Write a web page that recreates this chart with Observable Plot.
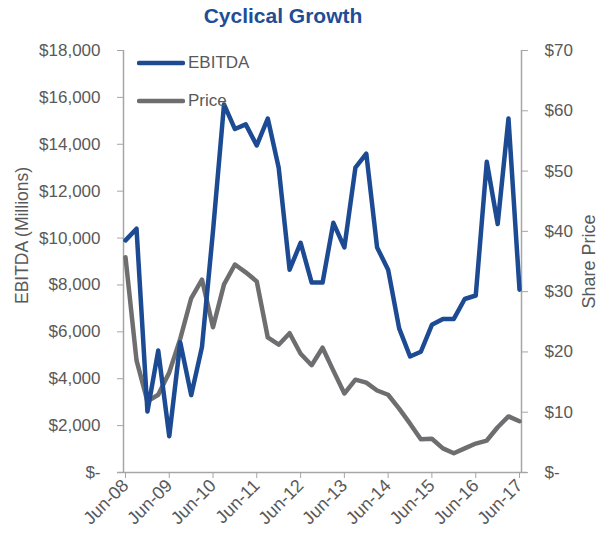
<!DOCTYPE html>
<html>
<head>
<meta charset="utf-8">
<script src="https://cdn.jsdelivr.net/npm/d3@7"></script>
<script src="https://cdn.jsdelivr.net/npm/@observablehq/plot@0.6"></script>
<style>
  html, body { margin: 0; padding: 0; background: #fff; }
  #wrap { position: relative; width: 610px; height: 533px; font-family: "Liberation Sans Narrow", "Arial Narrow", "Liberation Sans", sans-serif; }
  #title { position: absolute; left: 0; top: 4px; width: 566px; text-align: center; font-size: 21px; font-weight: bold; color: #1f4e96; z-index: 2; }
  .leg { position: absolute; left: 137px; font-size: 17px; color: #595959; display: flex; align-items: center; }
  .leg svg { margin-right: 3px; }
</style>
</head>
<body>
<div id="wrap">
  <div id="title">Cyclical Growth</div>
</div>
<script>
// Quarterly observations, Jun-08 .. Jun-17
const quarters = d3.utcMonth.range(new Date(Date.UTC(2008, 5, 1)), new Date(Date.UTC(2017, 6, 1)), 3);
const ebitda = [9900, 10400, 2600, 5200, 1550, 5550, 3300, 5350, 10300, 15700,
  14650, 14850, 13950, 15100, 13000, 8650, 9800, 8100, 8100, 10650,
  9600, 13000, 13600, 9600, 8650, 6150, 4950, 5150, 6300, 6550,
  6550, 7400, 7550, 13250, 10600, 15100, 7800];
const price = [35.7, 18.6, 11.8, 12.9, 16.6, 22.2, 28.9, 32.0, 24.1, 31.2,
  34.5, 33.2, 31.7, 22.4, 21.2, 23.1, 19.7, 17.8, 20.7, 16.9,
  13.1, 15.4, 14.9, 13.6, 12.9, 10.6, 8.1, 5.5, 5.6, 4.0,
  3.2, 4.0, 4.8, 5.3, 7.5, 9.3, 8.5];
const leftTicks = [0, 2000, 4000, 6000, 8000, 10000, 12000, 14000, 16000, 18000];
const rightTicks = [0, 10, 20, 30, 40, 50, 60, 70];
const xTickLabels = ["Jun-08","Jun-09","Jun-10","Jun-11","Jun-12","Jun-13","Jun-14","Jun-15","Jun-16","Jun-17"];
const seriesNames = ["EBITDA", "Price"];
const colors = ["#1c4b93", "#6e6e70"];

const yMax = 18000, pMax = 70, k = yMax / pMax;
const rows = quarters.map((q, i) => ({q, ebitda: ebitda[i], price: price[i]}));
const xTicks = xTickLabels.map(s => d3.utcParse("%b-%y")(s));
const axisColor = "#a6a6a6";
const textColor = "#595959";
const fmtL = v => v === 0 ? "$-" : "$" + d3.format(",")(v);
const fmtR = v => { const p = Math.round(v / k); return p === 0 ? "$-" : "$" + p; };

const chart = Plot.plot({
  width: 610, height: 533,
  marginLeft: 123, marginRight: 89, marginTop: 50, marginBottom: 61,
  x: {type: "utc", domain: [quarters[0], quarters[quarters.length - 1]], insetLeft: 2, insetRight: 2},
  y: {domain: [0, yMax]},
  style: {fontFamily: '"Liberation Sans Narrow", "Arial Narrow", "Liberation Sans", sans-serif', fontSize: "17px", color: textColor, background: "transparent", overflow: "visible"},
  marks: [
    Plot.ruleY([0], {stroke: axisColor, strokeWidth: 1.5, insetLeft: -6, insetRight: -6}),
    Plot.ruleX([quarters[0]], {dx: -2, stroke: axisColor, strokeWidth: 1.5}),
    Plot.ruleX([quarters[quarters.length - 1]], {dx: 2, stroke: axisColor, strokeWidth: 1.5}),
    Plot.axisY(leftTicks, {anchor: "left", tickSize: 6, tickPadding: 17, tickFormat: fmtL, stroke: axisColor, fill: textColor, label: null}),
    Plot.axisY(rightTicks.map(v => v * k), {anchor: "right", tickSize: 6, tickPadding: 17, tickFormat: fmtR, stroke: axisColor, fill: textColor, label: null}),
    Plot.axisX(xTicks, {tickSize: 6, tickRotate: -45, tickPadding: 4, fontSize: 18, tickFormat: d3.utcFormat("%b-%y"), stroke: axisColor, fill: textColor, label: null}),
    Plot.line(rows, {x: "q", y: d => d.price * k, stroke: colors[1], strokeWidth: 4.5}),
    Plot.line(rows, {x: "q", y: "ebitda", stroke: colors[0], strokeWidth: 4.5}),
    Plot.text(["EBITDA (Millions)"], {frameAnchor: "left", textAnchor: "middle", rotate: -90, dx: -101, dy: -26, fill: textColor, fontSize: 17.5}),
    Plot.text(["Share Price"], {frameAnchor: "right", textAnchor: "middle", rotate: -90, dx: 68, dy: 0, fill: textColor, fontSize: 18})
  ]
});
chart.style.position = "absolute";
chart.style.left = "0px";
chart.style.top = "0px";
const wrap = document.getElementById("wrap");
wrap.appendChild(chart);
// legend
[[0, 53], [1, 91]].forEach(([i, top]) => {
  const d = document.createElement("div");
  d.className = "leg";
  d.style.top = top + "px";
  d.innerHTML = `<svg width="48" height="6"><line x1="2" y1="3" x2="46" y2="3" stroke="${colors[i]}" stroke-width="4.5" stroke-linecap="round"/></svg><span>${seriesNames[i]}</span>`;
  wrap.appendChild(d);
});
</script>
</body>
</html>
